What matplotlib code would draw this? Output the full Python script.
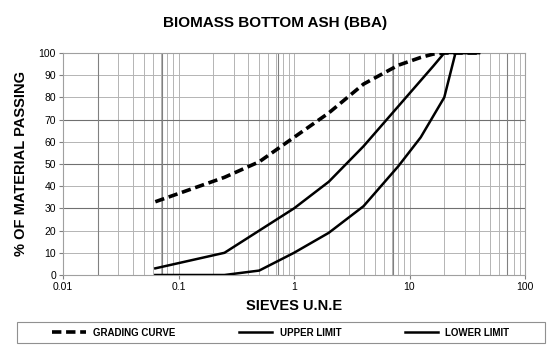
import matplotlib.pyplot as plt
import numpy as np
from matplotlib.patches import Rectangle

plt.rcParams['font.family'] = ['Liberation Sans', 'DejaVu Sans']

# Siebgroessen (mm) und Durchgang (%)
grading_x = [0.063, 0.25, 0.5, 1, 2, 4, 8, 12.5, 16, 20, 40]
grading_y = [33, 44, 51, 62, 73, 86, 94.5, 98, 99.5, 100, 100]

upper_x = [0.063, 0.25, 0.5, 1, 2, 4, 8, 16, 20, 40]
upper_y = [3, 10, 20, 30, 42, 58, 76, 94, 100, 100]

lower_x = [0.063, 0.25, 0.5, 1, 2, 4, 8, 12.5, 20, 25, 40]
lower_y = [0, 0, 2, 10, 19, 31, 49, 62, 80, 100, 100]

fig = plt.figure(figsize=(5.5, 3.52), dpi=100)
ax = fig.add_axes([63 / 550, 1 - 275 / 352, (525 - 63) / 550, (275 - 53) / 352])

ax.set_xscale('log')
ax.set_xlim(0.01, 100)
ax.set_ylim(0, 100)

# Gitter
ax.set_yticks(np.arange(0, 101, 10))
ax.grid(True, which='both', axis='x', color='#b4b4b4', linewidth=0.7)
ax.grid(True, which='major', axis='y', color='#b4b4b4', linewidth=0.7)
for yy in [30, 50, 70]:
    ax.axhline(yy, color='#707070', linewidth=0.8, zorder=1)
for xx in [0.02, 0.072, 0.72, 7.2, 70]:
    ax.axvline(xx, color='#808080', linewidth=0.8, zorder=1)
ax.set_axisbelow(True)

ax.plot(grading_x, grading_y, color='black', linewidth=2.6, linestyle=(0, (2.6, 1.3)),
        label='GRADING CURVE', zorder=3)
ax.plot(upper_x, upper_y, color='black', linewidth=1.8, label='UPPER LIMIT', zorder=3)
ax.plot(lower_x, lower_y, color='black', linewidth=1.8, label='LOWER LIMIT', zorder=3)

ax.set_xticks([0.01, 0.1, 1, 10, 100])
ax.set_xticklabels(['0.01', '0.1', '1', '10', '100'])
ax.tick_params(axis='both', which='major', labelsize=7.5, length=3, color='#808080', pad=2)
ax.tick_params(axis='x', which='minor', length=0)
for s in ax.spines.values():
    s.set_color('#a0a0a0')
    s.set_linewidth(0.8)

ax.set_xlabel('SIEVES U.N.E', fontsize=10.5, fontweight='bold', labelpad=5)
ax.set_ylabel('% OF MATERIAL PASSING', fontsize=10.5, fontweight='bold', labelpad=8)
fig.suptitle('BIOMASS BOTTOM ASH (BBA)', fontsize=11, fontweight='bold', y=0.955)

# Legendenrahmen ueber die ganze Breite
fig.patches.append(Rectangle((17 / 550, 1 - 343 / 352), 528 / 550, 21 / 352,
                             transform=fig.transFigure, facecolor='white',
                             edgecolor='#909090', linewidth=0.8))
leg = fig.legend(loc='center', ncol=3, bbox_to_anchor=(281 / 550, 1 - 332.5 / 352),
                 prop={'weight': 'bold', 'size': 7}, frameon=False,
                 handlelength=3.4, handletextpad=0.8, columnspacing=6.5)

fig.savefig('out.png', dpi=100)
